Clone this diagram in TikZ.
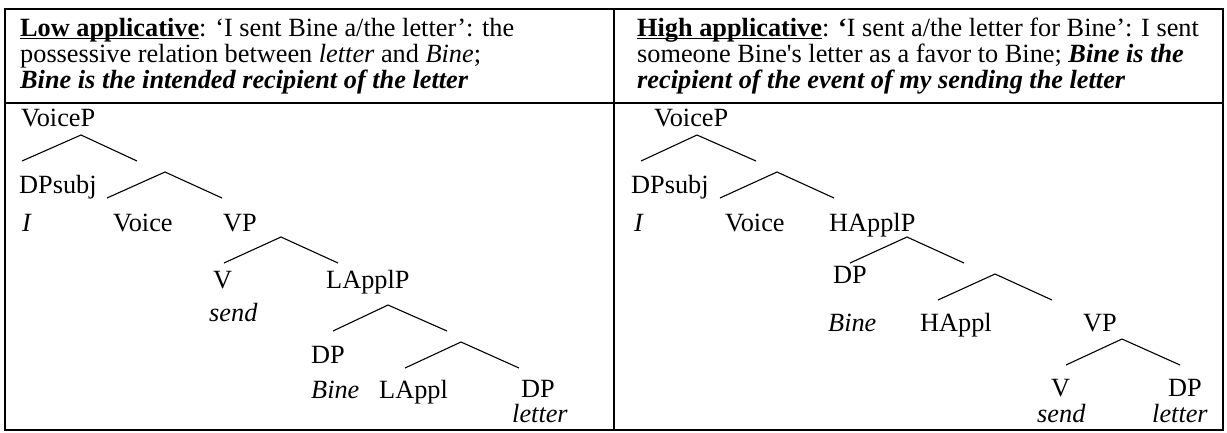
\documentclass[tikz,border=0pt]{standalone}
\usepackage{fontspec}
\setmainfont{Liberation Serif}
\newcommand\ulbox[1]{\setbox0\hbox{#1}\rlap{\rule[-3.4pt]{\wd0}{1.9pt}}\box0}
\begin{document}
\begin{tikzpicture}[x=1pt,y=-1pt,
  lab/.style={inner sep=0pt, anchor=base west, font=\fontsize{26.3}{26}\selectfont},
  br/.style={line width=1.1pt, line join=miter},
  frame/.style={line width=2.4pt}]
\useasboundingbox (0,0) rectangle (1227,432);
% table frame
\draw[frame] (5,9) rectangle (1223,430);
\draw[frame] (614,9) -- (614,430);
\draw[frame] (5,103) -- (1223,103);
% header left
\node[lab] (hl1) at (20,36) {\ulbox{\textbf{Low applicative}}: ‘I sent Bine a/the letter’: the};
\node[lab] (hl2) at (20,62) {possessive relation between \textit{letter} and \textit{Bine};};
\node[lab] (hl3) at (20,88) {\textbf{\textit{Bine is the intended recipient of the letter}}};
% header right
\node[lab] (hr1) at (637,36) {\ulbox{\textbf{High applicative}}: \textbf{‘}I sent a/the letter for Bine’: I sent};
\node[lab] (hr2) at (637,62) {someone Bine\textquotesingle s letter as a favor to Bine; \textbf{\textit{Bine is the}}};
\node[lab] (hr3) at (637,88) {\textbf{\textit{recipient of the event of my sending the letter}}};
% left tree
\node[lab] (lvp) at (21,126) {VoiceP};
\node[lab] (ldps) at (19,193) {DPsubj};
\node[lab] (li) at (22,231) {\textit{I}};
\node[lab] (lvoice) at (113,231) {Voice};
\node[lab] (lvpp) at (223,231) {VP};
\node[lab] (lv) at (213,288) {V};
\node[lab] (lapp) at (326,288) {LApplP};
\node[lab] (lsend) at (209,321) {\textit{send}};
\node[lab] (ldp) at (311,363) {DP};
\node[lab] (lbine) at (311,398) {\textit{Bine}};
\node[lab] (lappl) at (379,398) {LAppl};
\node[lab] (ldp2) at (521,397) {DP};
\node[lab] (lletter) at (512,422) {\textit{letter}};
% left branches
\coordinate (a1l) at (22,161); \coordinate (a1t) at (81,135); \coordinate (a1r) at (137,161);
\coordinate (a2l) at (107,198); \coordinate (a2t) at (165,172); \coordinate (a2r) at (222,198);
\coordinate (a3l) at (224,263); \coordinate (a3t) at (281,237); \coordinate (a3r) at (338,263);
\coordinate (a4l) at (333,331); \coordinate (a4t) at (388,305); \coordinate (a4r) at (447,331);
\coordinate (a5l) at (405,368); \coordinate (a5t) at (461,342); \coordinate (a5r) at (519,368);
\draw[br] (a1l) -- (a1t) -- (a1r);
\draw[br] (a2l) -- (a2t) -- (a2r);
\draw[br] (a3l) -- (a3t) -- (a3r);
\draw[br] (a4l) -- (a4t) -- (a4r);
\draw[br] (a5l) -- (a5t) -- (a5r);
% right tree
\node[lab] (rvp) at (654,126) {VoiceP};
\node[lab] (rdps) at (631,193) {DPsubj};
\node[lab] (ri) at (634,231) {\textit{I}};
\node[lab] (rvoice) at (725,231) {Voice};
\node[lab] (rhap) at (829,231) {HApplP};
\node[lab] (rdp) at (833,283) {DP};
\node[lab] (rbine) at (828,331) {\textit{Bine}};
\node[lab] (rhappl) at (920,331) {HAppl};
\node[lab] (rvpp) at (1083,331) {VP};
\node[lab] (rv) at (1051,396) {V};
\node[lab] (rdp2) at (1168,396) {DP};
\node[lab] (rsend) at (1037,422) {\textit{send}};
\node[lab] (rletter) at (1152,422) {\textit{letter}};
% right branches
\coordinate (b1l) at (641,161); \coordinate (b1t) at (697,135); \coordinate (b1r) at (756,161);
\coordinate (b2l) at (720,198); \coordinate (b2t) at (777,172); \coordinate (b2r) at (834,198);
\coordinate (b3l) at (850,263); \coordinate (b3t) at (907,237); \coordinate (b3r) at (964,263);
\coordinate (b4l) at (938,300); \coordinate (b4t) at (995,274); \coordinate (b4r) at (1052,300);
\coordinate (b5l) at (1066,365); \coordinate (b5t) at (1122,339); \coordinate (b5r) at (1180,365);
\draw[br] (b1l) -- (b1t) -- (b1r);
\draw[br] (b2l) -- (b2t) -- (b2r);
\draw[br] (b3l) -- (b3t) -- (b3r);
\draw[br] (b4l) -- (b4t) -- (b4r);
\draw[br] (b5l) -- (b5t) -- (b5r);
\end{tikzpicture}
\end{document}
